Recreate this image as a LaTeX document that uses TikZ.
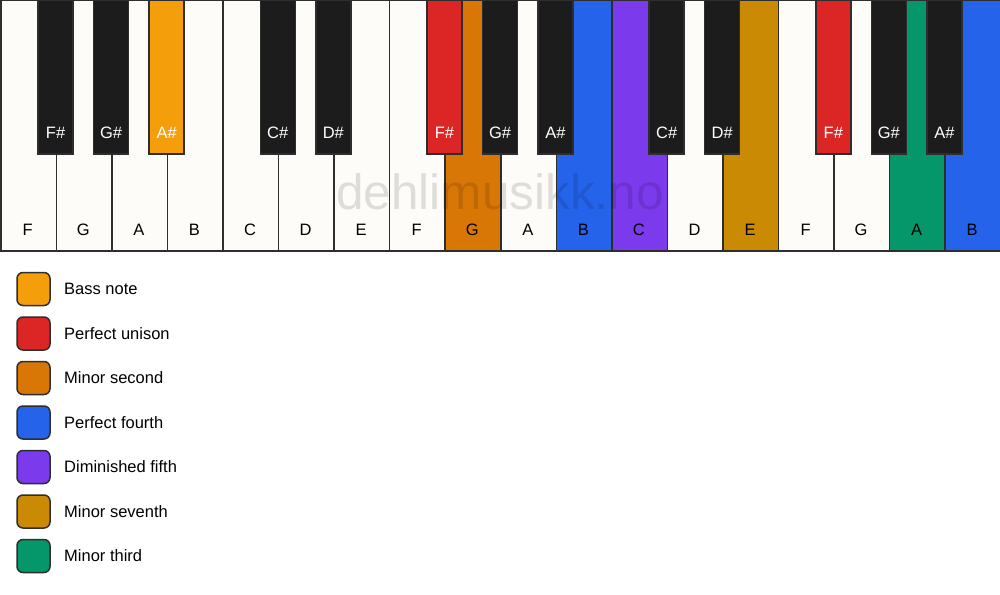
\documentclass[tikz,border=0pt]{standalone}
\usepackage{fontspec}
\setmainfont{Liberation Sans}
\definecolor{wk}{HTML}{FDFCF8}
\definecolor{bk}{HTML}{1C1C1C}
\definecolor{kline}{HTML}{2E2E2E}
\definecolor{bass}{HTML}{F59E0B}
\definecolor{unison}{HTML}{DC2626}
\definecolor{minsec}{HTML}{D97706}
\definecolor{pfourth}{HTML}{2563EB}
\definecolor{dimfifth}{HTML}{7C3AED}
\definecolor{minsev}{HTML}{CA8A04}
\definecolor{minthird}{HTML}{059669}
\begin{document}
\begin{tikzpicture}[x=1pt,y=-1pt,
  wkey/.style={draw=kline, line width=1.5pt, minimum width=55.5556pt, minimum height=250pt, anchor=north west, inner sep=0pt, outer sep=0pt},
  bkey/.style={draw=kline, line width=1.5pt, minimum width=35pt, minimum height=153pt, anchor=north, inner sep=0pt, outer sep=0pt},
  wlab/.style={font=\fontsize{16.5}{18}\selectfont, text=black, inner sep=0pt},
  blab/.style={font=\fontsize{16.5}{18}\selectfont, text=white, inner sep=0pt},
  swatch/.style={draw=kline, line width=1.5pt, rounded corners=6pt, minimum width=33pt, minimum height=33pt, inner sep=0pt},
  leglab/.style={font=\fontsize{16.5}{18}\selectfont, anchor=west, inner sep=0pt},
  wmark/.style={font=\fontsize{49.5}{52}\selectfont, text=black, text opacity=0.12, inner sep=0pt}]
\useasboundingbox (0,0) rectangle (1000,594);
\fill[white] (0,0) rectangle (1000,594);
% white keys
\foreach \i/\n/\c in {0/F/wk,1/G/wk,2/A/wk,3/B/wk,4/C/wk,5/D/wk,6/E/wk,7/F/wk,8/G/minsec,9/A/wk,10/B/pfourth,11/C/dimfifth,12/D/wk,13/E/minsev,14/F/wk,15/G/wk,16/A/minthird,17/B/pfourth} {
  \node[wkey, fill=\c] (w\i) at ({\i*55.5556+0.75},0.75) {};
  \node[wlab] (wl\i) at ({\i*55.5556+27.78},230) {\n};
}
% black keys
\foreach \b/\n/\c in {1/F\#/bk,2/G\#/bk,3/A\#/bass,5/C\#/bk,6/D\#/bk,8/F\#/unison,9/G\#/bk,10/A\#/bk,12/C\#/bk,13/D\#/bk,15/F\#/unison,16/G\#/bk,17/A\#/bk} {
  \node[bkey, fill=\c] (b\b) at ({\b*55.5556},0.75) {};
  \node[blab] (bl\b) at ({\b*55.5556},133) {\n};
}
% watermark
\node[wmark] (wm) at (500,192) {dehlimusikk.no};
% legend
\foreach \k/\c/\t in {0/bass/Bass note,1/unison/Perfect unison,2/minsec/Minor second,3/pfourth/Perfect fourth,4/dimfifth/Diminished fifth,5/minsev/Minor seventh,6/minthird/Minor third} {
  \node[swatch, fill=\c] (s\k) at (33.5,{289+\k*44.5}) {};
  \node[leglab] (t\k) at (64,{289+\k*44.5}) {\t};
}
\end{tikzpicture}
\end{document}
